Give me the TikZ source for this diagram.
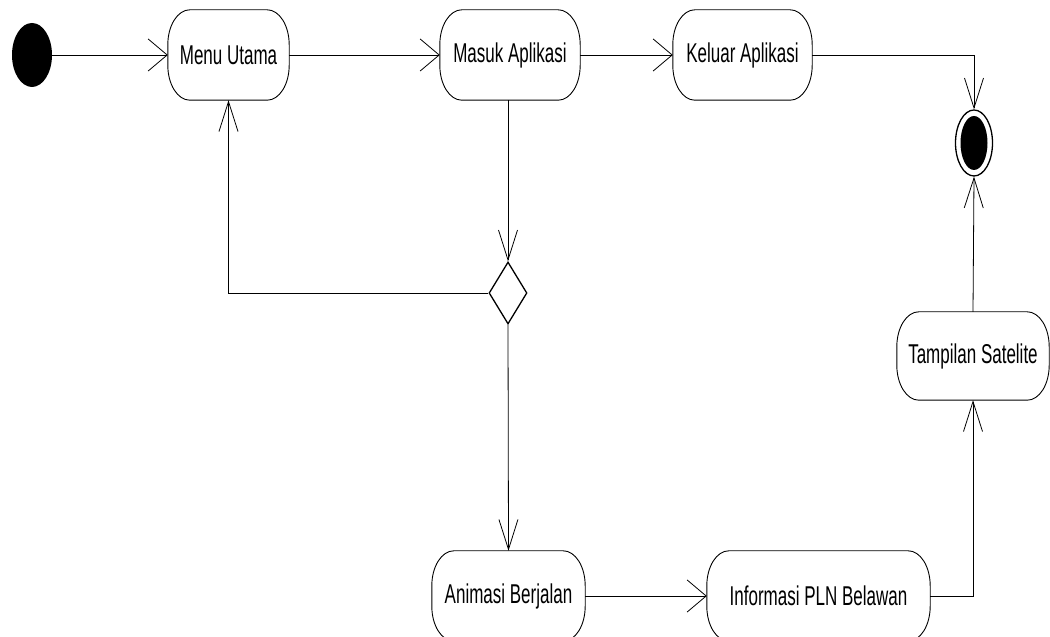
\documentclass[tikz,border=0pt]{standalone}
\usepackage{fontspec}
\setmainfont{Liberation Sans}
\usepackage{graphicx}
\usetikzlibrary{arrows.meta,shapes.geometric}
\newcommand\lbl[1]{\scalebox{1}[1.6]{#1}}
\tikzset{
  boxline/.style={line width=0.9pt},
  conn/.style={line width=0.8pt},
  harr/.style={conn,-{Straight Barb[length=19pt,width=32pt]}},
  varr/.style={conn,-{Straight Barb[length=30pt,width=19pt]}},
  txt/.style={font=\fontsize{17}{20}\selectfont, inner sep=0pt}
}
\newcommand\actbox[6]{%
  \node[txt, minimum width=#4pt, minimum height=#5pt] (#1) at (#2,#3) {\lbl{#6}};
  \draw[boxline] ([xshift=22pt]#1.north west) -- ([xshift=-22pt]#1.north east)
    arc[start angle=90,end angle=0,x radius=22pt,y radius=35pt]
    -- ([yshift=35pt]#1.south east)
    arc[start angle=0,end angle=-90,x radius=22pt,y radius=35pt]
    -- ([xshift=22pt]#1.south west)
    arc[start angle=270,end angle=180,x radius=22pt,y radius=35pt]
    -- ([yshift=-35pt]#1.north west)
    arc[start angle=180,end angle=90,x radius=22pt,y radius=35pt] -- cycle;}
\begin{document}
\begin{tikzpicture}[x=1pt,y=1pt]
\useasboundingbox (0,0) rectangle (1050,637);
% start
\node[ellipse, fill=black, minimum width=40pt, minimum height=64pt, inner sep=0pt] (start) at (32,582) {};
% activities
\actbox{menu}{228.5}{582}{121}{90}{Menu Utama}
\actbox{masuk}{510}{582}{140}{90}{Masuk Aplikasi}
\actbox{keluar}{742.5}{582}{139}{90}{Keluar Aplikasi}
\actbox{tampil}{973}{281}{152}{88}{Tampilan Satelite}
\actbox{anim}{508.5}{41}{153}{90}{Animasi Berjalan}
\actbox{info}{818.5}{41}{223}{90}{Informasi PLN Belawan}
% final
\node[ellipse, draw, line width=1.3pt, minimum width=37pt, minimum height=66pt, inner sep=0pt] (final) at (974,494) {};
\node[ellipse, fill=black, minimum width=27pt, minimum height=54pt, inner sep=0pt] (finalin) at (974,494) {};
% decision
\node[diamond, draw, line width=1.3pt, minimum width=38pt, minimum height=62pt, inner sep=0pt] (dec) at (508,344) {};
% connectors
\draw[harr] (start.east) -- (menu.west);
\draw[harr] (menu.east) -- (masuk.west);
\draw[harr] (masuk.east) -- (keluar.west);
\draw[varr] (keluar.east) -| (final.north);
\draw[varr] (dec.north |- masuk.south) -- (dec.north);
\draw[varr] (dec.west) -| (menu.south);
\draw[varr] (dec.south) -- (anim.north);
\draw[harr] (anim.east) -- (info.west);
\draw[varr] (info.east) -| (tampil.south);
\draw[varr] (tampil.north) -- (final.south);
\end{tikzpicture}
\end{document}
